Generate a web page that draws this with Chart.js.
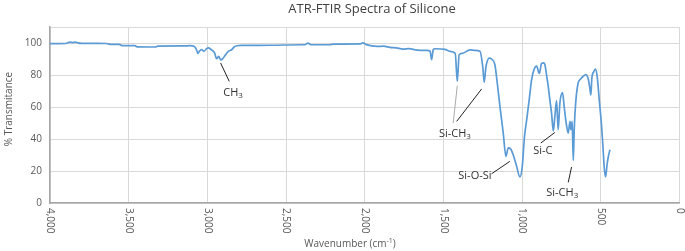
<!doctype html>
<html lang="en">
<head>
<meta charset="utf-8">
<title>ATR-FTIR Spectra of Silicone</title>
<script src="https://cdn.jsdelivr.net/npm/chart.js"></script>
<style>
body{margin:0;background:#fff;}
#wrap{width:685px;height:251px;}
</style>
</head>
<body>
<div id="wrap"><canvas id="myChart"></canvas></div>
<script>
// spectrum (wavenumber cm-1, high to low)
const wavenumber = [
	4000,3950,3900,3873,3855,3840,3822,3800,3700,3640,3619,3560,3543,3460,3447,3330,3314,3150,3111,3085,
	3070,3060,3050,3036,3022,3005,2994,2975,2955,2941,2928,2915,2900,2888,2867,2846,2830,2814,2780,2600,
	2400,2380,2361,2340,2221,2200,2031,2012,1990,1923,1880,1840,1800,1757,1720,1668,1605,1585,1575,1565,
	1554,1491,1459,1425,1412,1400,1380,1332,1300,1268,1250,1241,1230,1209,1194,1173,1158,1141,1120,1103,
	1088,1073,1057,1035,1014,999,990,985,971,955,940,925,908,891,876,862,855,845,834,824,
	813,802,792,781,771,760,743,733,720,707,696,690,682,675,669,658,644,633,612,595,
	580,570,563,557,545,534,523,510,495,485,479,470,459,450,442
];
// % transmittance at each wavenumber
const transmittance = [
	99.6,99.6,99.7,100.5,100.2,100.6,100.1,99.8,99.8,99.7,99.2,99.1,98.4,98.3,97.6,97.5,98.1,98.2,98.3,98.0,
	96.0,93.5,95.0,95.8,94.8,96.5,96.9,95.8,94.0,90.2,91.6,89.4,90.5,92.2,94.8,95.8,97.5,98.3,98.5,98.6,
	98.9,98.9,99.9,98.9,98.9,99.3,99.4,100.1,99.0,97.9,98.0,97.3,97.0,96.2,96.5,95.6,95.4,95.0,89.6,95.8,
	96.4,96.0,94.8,93.5,76.0,92.7,93.5,95.7,95.4,94.8,85.0,75.5,85.0,90.6,90.0,86.4,75.0,60.4,43.7,29.1,
	34.4,33.7,30.2,22.9,16.3,22.9,35.0,41.6,52.0,64.6,77.0,83.3,85.6,81.0,87.4,87.6,86.4,80.2,72.9,64.6,
	56.2,45.0,54.1,64.0,45.8,62.5,69.0,60.4,50.0,43.7,51.0,45.8,51.0,26.5,45.8,64.6,75.0,77.0,79.2,80.2,
	77.5,72.0,67.5,78.0,82.0,83.7,79.0,64.6,48.0,33.0,23.0,16.3,25.0,30.0,33.3
];
const xTicks = [4000,3500,3000,2500,2000,1500,1000,500,0];
const yTicks = [0,20,40,60,80,100];

// peak labels: text, subscript, text centre, leader lines (all in data units)
const peakLabels = [
	{text:'CH', sub:'3', x:2837, y:69, lines:[[2916,87.5,2861,76,'#222']]},
	{text:'Si-CH', sub:'3', x:1427, y:43.3, lines:[[1412,73.3,1438,50,'#aaa'],[1257,71.3,1416,51,'#222']]},
	{text:'Si-O-Si', sub:'', x:1300, y:17, lines:[[1194,18.3,1078,26,'#222']]},
	{text:'Si-C', sub:'', x:868, y:32.9, lines:[[881,37.5,792,44.1,'#222']]},
	{text:'Si-CH', sub:'3', x:745, y:6.6, lines:[[707,12.9,686,22.5,'#222']]}
];

const FONT = '"Open Sans", "Liberation Sans", sans-serif';

let points = [];
for(let i=0;i<wavenumber.length;i++){
	points.push({x: wavenumber[i], y: transmittance[i]});
}

function drawSubText(ctx, text, sub, cx, cy, size){
	ctx.font = size + 'px ' + FONT;
	let w1 = ctx.measureText(text).width;
	ctx.font = (size-3) + 'px ' + FONT;
	let w2 = sub ? ctx.measureText(sub).width : 0;
	let left = cx - (w1+w2)/2;
	ctx.textAlign = 'left';
	ctx.textBaseline = 'middle';
	ctx.font = size + 'px ' + FONT;
	ctx.fillText(text, left, cy);
	if(sub){
		ctx.font = (size-3) + 'px ' + FONT;
		ctx.fillText(sub, left + w1, cy + 3);
	}
}

const extras = {
	id: 'extras',
	afterDraw(chart){
		const ctx = chart.ctx;
		const xs = chart.scales.x, ys = chart.scales.y;
		ctx.save();
		// title
		ctx.fillStyle = '#404040';
		ctx.font = '13px ' + FONT;
		ctx.textAlign = 'center';
		ctx.textBaseline = 'middle';
		ctx.fillText('ATR-FTIR Spectra of Silicone', 372, 9);
		// x tick labels, turned clockwise
		ctx.fillStyle = '#595959';
		ctx.font = '10px ' + FONT;
		xTicks.forEach(function(v){
			ctx.save();
			ctx.translate(xs.getPixelForValue(v), ys.bottom + 5);
			ctx.rotate(Math.PI/2);
			ctx.textAlign = 'left';
			ctx.textBaseline = 'middle';
			ctx.fillText(v.toLocaleString('en-US'), 0, 0);
			ctx.restore();
		});
		// axis titles
		ctx.font = '10px ' + FONT;
		ctx.textAlign = 'right';
		ctx.textBaseline = 'middle';
		let t1 = 'Wavenumber (cm';
		let w1 = ctx.measureText(t1).width;
		ctx.font = '7px ' + FONT;
		let w2 = ctx.measureText('-1').width;
		ctx.font = '10px ' + FONT;
		let w3 = ctx.measureText(')').width;
		let left = 350 - (w1+w2+w3)/2;
		ctx.textAlign = 'left';
		ctx.fillText(t1, left, 244);
		ctx.font = '7px ' + FONT;
		ctx.fillText('-1', left + w1, 241);
		ctx.font = '10px ' + FONT;
		ctx.fillText(')', left + w1 + w2, 244);
		ctx.save();
		ctx.translate(9, 109);
		ctx.rotate(-Math.PI/2);
		ctx.textAlign = 'center';
		ctx.fillText('% Transmitance', 0, 0);
		ctx.restore();
		// peak labels
		peakLabels.forEach(function(p){
			p.lines.forEach(function(l){
				ctx.strokeStyle = l[4];
				ctx.lineWidth = 1;
				ctx.beginPath();
				ctx.moveTo(xs.getPixelForValue(l[0]), ys.getPixelForValue(l[1]));
				ctx.lineTo(xs.getPixelForValue(l[2]), ys.getPixelForValue(l[3]));
				ctx.stroke();
			});
			ctx.fillStyle = '#333';
			drawSubText(ctx, p.text, p.sub, xs.getPixelForValue(p.x), ys.getPixelForValue(p.y), 11);
		});
		ctx.restore();
	}
};

new Chart(document.getElementById('myChart'), {
	type: 'line',
	data: {
		datasets: [{
			data: points,
			borderColor: '#5B9BD5',
			borderWidth: 1.7,
			pointRadius: 0,
			cubicInterpolationMode: 'monotone',
			fill: false
		}]
	},
	options: {
		responsive: true,
		maintainAspectRatio: false,
		animation: false,
		layout: {padding: {top: 27, right: 5.5, left: 0, bottom: 0}},
		plugins: {legend: {display: false}, tooltip: {enabled: false}},
		scales: {
			x: {
				type: 'linear',
				reverse: true,
				min: 0,
				max: 4000,
				ticks: {display: false, stepSize: 500},
				grid: {color: '#d9d9d9', drawTicks: false},
				border: {color: '#a6a6a6', width: 1.5},
				afterFit: function(scale){ scale.height = 48; }
			},
			y: {
				min: 0,
				max: 110,
				ticks: {
					stepSize: 20,
					padding: 8,
					color: '#595959',
					font: {family: FONT, size: 10},
					callback: function(v){ return yTicks.indexOf(v) >= 0 ? v : ''; }
				},
				grid: {color: '#d9d9d9', drawTicks: false},
				border: {color: '#a6a6a6', width: 1.5},
				afterFit: function(scale){ scale.width = 50; }
			}
		}
	},
	plugins: [extras]
});
</script>
</body>
</html>
